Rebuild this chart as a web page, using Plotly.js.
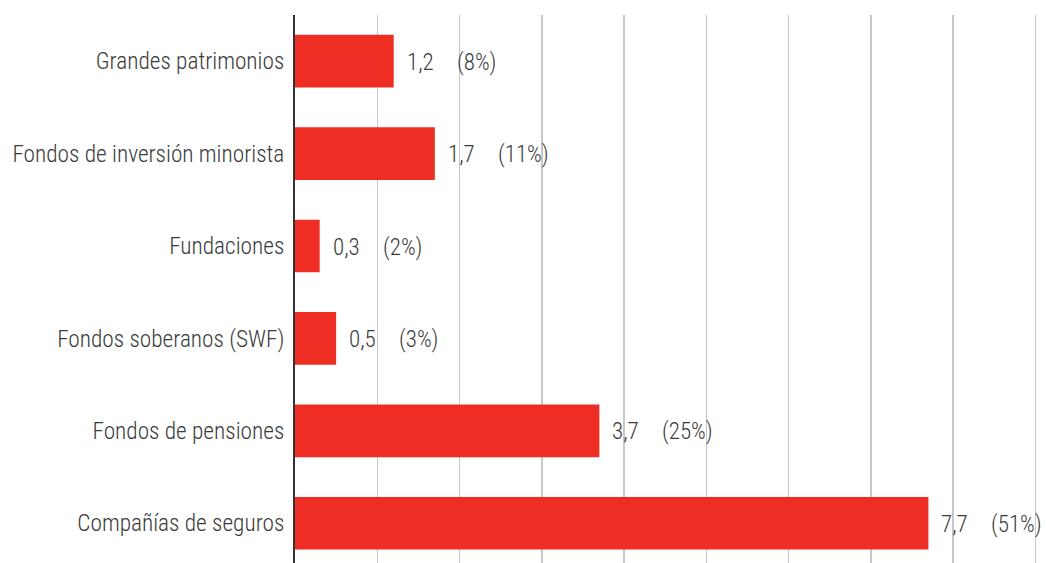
<!DOCTYPE html>
<html><head><meta charset="utf-8">
<script src="https://cdn.plot.ly/plotly-3.0.1.min.js"></script>
<style>html,body{margin:0;padding:0;background:#fff}#c{width:1046px;height:563px}</style>
</head><body><div id="c"></div>
<script>
const categories = ["Grandes patrimonios","Fondos de inversión minorista","Fundaciones","Fondos soberanos (SWF)","Fondos de pensiones","Compañías de seguros"];
const values = [1.2, 1.7, 0.3, 0.5, 3.7, 7.7];
const shares = [8, 11, 2, 3, 25, 51];
const valueLabels = ["1,2","1,7","0,3","0,5","3,7","7,7"];
const shareLabels = shares.map(s => "(" + s + "%)");

const FONT = "Roboto Condensed, sans-serif";
const TXT = '#3a3a3a';
const annotations = [];
categories.forEach((c, i) => {
  annotations.push({x: values[i], y: c, xref:'x', yref:'y', text: valueLabels[i], showarrow:false, xanchor:'left', xshift: 11, yshift:-1, font:{family:FONT, size:23, color:TXT, weight:300}});
  annotations.push({x: values[i], y: c, xref:'x', yref:'y', text: shareLabels[i], showarrow:false, xanchor:'left', xshift: 61, yshift:-1, font:{family:FONT, size:23, color:TXT, weight:300}});
});

Plotly.newPlot('c', [{
  type:'bar', orientation:'h', x: values, y: categories,
  marker:{color:'#ee2e24'}, hoverinfo:'none'
}], {
  width:1046, height:563,
  margin:{l:295, r:9, t:15, b:0},
  bargap:0.43,
  showlegend:false,
  paper_bgcolor:'#fff', plot_bgcolor:'#fff',
  xaxis:{range:[0,9.02], dtick:1, tick0:0, showgrid:true, gridcolor:'#c6c6cc', gridwidth:1.5, showticklabels:false, zeroline:false, showline:false, ticks:''},
  yaxis:{type:'category', categoryorder:'array', categoryarray:categories, range:[5.43,-0.5], showgrid:false, zeroline:false,
    showline:true, linecolor:'#333', linewidth:2, ticks:'', ticklabelstandoff:4,
    tickfont:{family:FONT, size:23.3, color:TXT, weight:300}},
  annotations: annotations
}, {staticPlot:true});
</script></body></html>
